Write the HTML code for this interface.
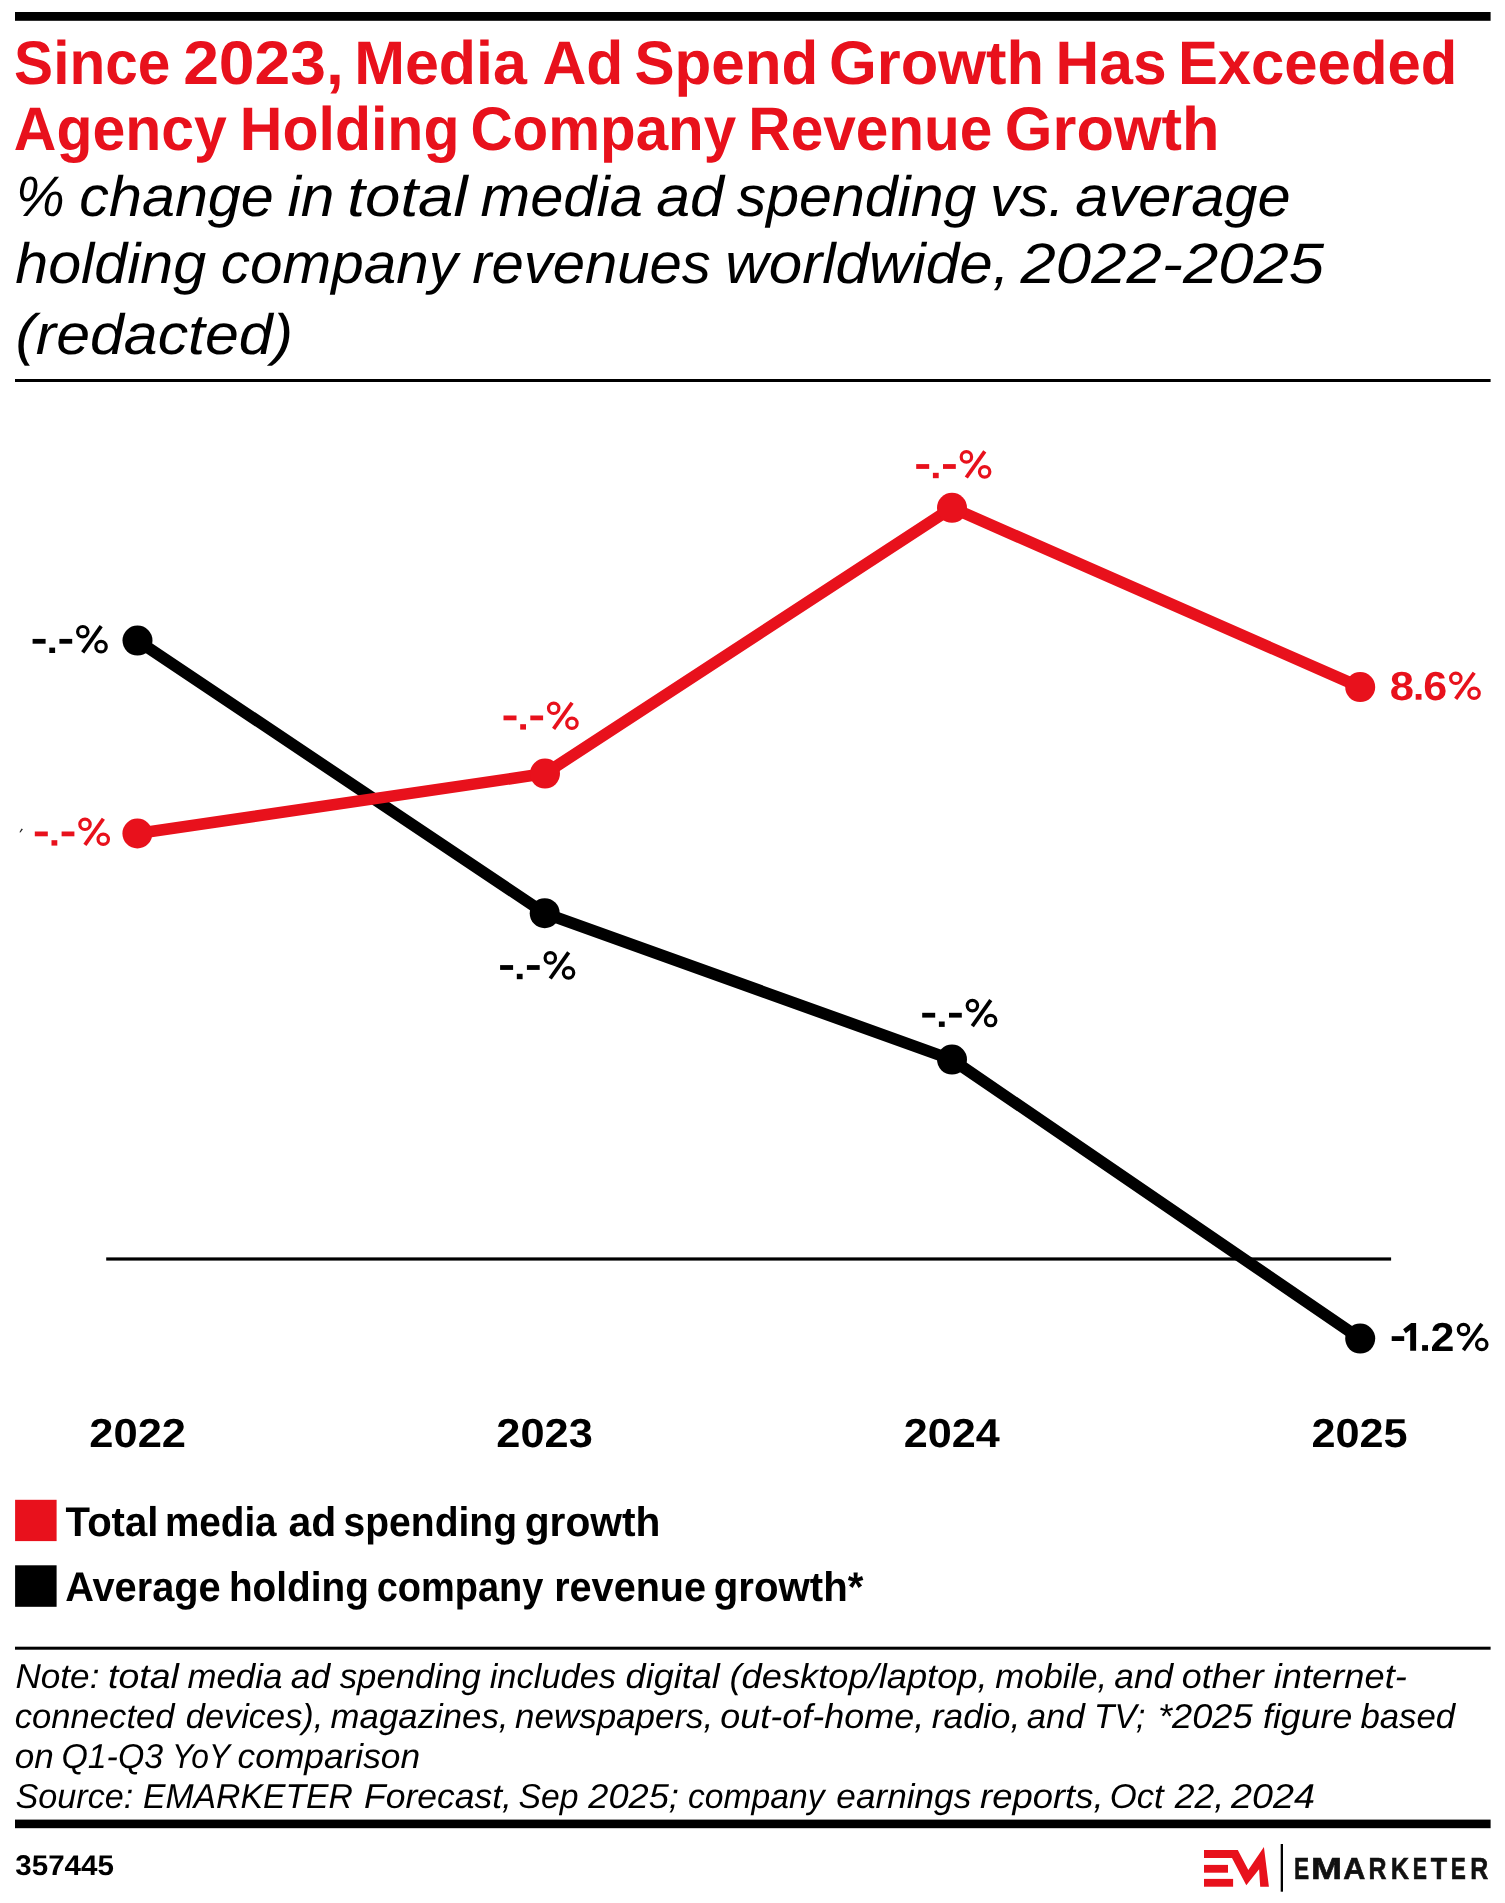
<!DOCTYPE html>
<html lang="en">
<head>
<meta charset="utf-8">
<title>Since 2023, Media Ad Spend Growth Has Exceeded Agency Holding Company Revenue Growth</title>
<style>
html,body{margin:0;padding:0;background:#ffffff;}
body{width:1505px;height:1903px;overflow:hidden;font-family:"Liberation Sans",sans-serif;}
svg{display:block;}
svg text{font-family:"Liberation Sans",sans-serif;}
</style>
</head>
<body>
<svg role="img" aria-label="Line chart: total media ad spending growth vs. average holding company revenue growth, 2022-2025" width="1505" height="1903" viewBox="0 0 1505 1903" text-rendering="geometricPrecision">
<rect x="0" y="0" width="1505" height="1903" fill="#ffffff"/>
<!-- rules -->
<rect x="15" y="12" width="1475.6" height="8.8" fill="#000"/>
<rect x="15" y="379" width="1475.6" height="3" fill="#000"/>
<rect x="15" y="1646.7" width="1475.6" height="3" fill="#000"/>
<rect x="15" y="1819.6" width="1475.6" height="8.6" fill="#000"/>
<!-- chart -->
<rect x="106.2" y="1257.4" width="1284.9" height="3.2" fill="#000"/>
<polyline points="137.5,640.6 544.7,913.2 952,1059.6 1360.2,1338.6" fill="none" stroke="#000000" stroke-width="11.6" stroke-linejoin="round" stroke-linecap="round"/>
<circle cx="137.5" cy="640.6" r="15" fill="#000000"/>
<circle cx="544.7" cy="913.2" r="15" fill="#000000"/>
<circle cx="952" cy="1059.6" r="15" fill="#000000"/>
<circle cx="1360.2" cy="1338.6" r="15" fill="#000000"/>
<polyline points="137.4,833.5 545,773.6 952,507.8 1360.2,687.1" fill="none" stroke="#e8111c" stroke-width="11.6" stroke-linejoin="round" stroke-linecap="round"/>
<circle cx="137.4" cy="833.5" r="15" fill="#e8111c"/>
<circle cx="545" cy="773.6" r="15" fill="#e8111c"/>
<circle cx="952" cy="507.8" r="15" fill="#e8111c"/>
<circle cx="1360.2" cy="687.1" r="15" fill="#e8111c"/>
<path d="M19.4 832.3 L21.6 828.6 L22.9 829.3 L20.4 832.6 Z" fill="#222"/>
<!-- legend -->
<rect x="15.1" y="1499.8" width="41.5" height="41.3" fill="#e8111c"/>
<rect x="15.1" y="1565.3" width="41.5" height="41.5" fill="#000"/>
<!-- text (masked group forces grayscale antialiasing) -->
<defs><mask id="txtmask" maskUnits="userSpaceOnUse" x="0" y="0" width="1505" height="1903"><rect x="0" y="0" width="1505" height="1903" fill="#fff"/></mask></defs>
<g mask="url(#txtmask)">
<text x="14.07" y="83.6" font-size="61.5" font-weight="bold" font-style="normal" fill="#e8111c" textLength="156.29" lengthAdjust="spacingAndGlyphs">Since</text>
<text x="183.16" y="83.6" font-size="61.5" font-weight="bold" font-style="normal" fill="#e8111c" textLength="160.63" lengthAdjust="spacingAndGlyphs">2023,</text>
<text x="354.21" y="83.6" font-size="61.5" font-weight="bold" font-style="normal" fill="#e8111c" textLength="172.71" lengthAdjust="spacingAndGlyphs">Media</text>
<text x="542.40" y="83.6" font-size="61.5" font-weight="bold" font-style="normal" fill="#e8111c" textLength="80.93" lengthAdjust="spacingAndGlyphs">Ad</text>
<text x="634.42" y="83.6" font-size="61.5" font-weight="bold" font-style="normal" fill="#e8111c" textLength="183.81" lengthAdjust="spacingAndGlyphs">Spend</text>
<text x="829.06" y="83.6" font-size="61.5" font-weight="bold" font-style="normal" fill="#e8111c" textLength="214.98" lengthAdjust="spacingAndGlyphs">Growth</text>
<text x="1055.53" y="83.6" font-size="61.5" font-weight="bold" font-style="normal" fill="#e8111c" textLength="111.10" lengthAdjust="spacingAndGlyphs">Has</text>
<text x="1177.88" y="83.6" font-size="61.5" font-weight="bold" font-style="normal" fill="#e8111c" textLength="279.38" lengthAdjust="spacingAndGlyphs">Exceeded</text>
<text x="13.85" y="150.0" font-size="61.5" font-weight="bold" font-style="normal" fill="#e8111c" textLength="213.00" lengthAdjust="spacingAndGlyphs">Agency</text>
<text x="239.84" y="150.0" font-size="61.5" font-weight="bold" font-style="normal" fill="#e8111c" textLength="219.61" lengthAdjust="spacingAndGlyphs">Holding</text>
<text x="470.50" y="150.0" font-size="61.5" font-weight="bold" font-style="normal" fill="#e8111c" textLength="265.60" lengthAdjust="spacingAndGlyphs">Company</text>
<text x="748.37" y="150.0" font-size="61.5" font-weight="bold" font-style="normal" fill="#e8111c" textLength="244.01" lengthAdjust="spacingAndGlyphs">Revenue</text>
<text x="1004.86" y="150.0" font-size="61.5" font-weight="bold" font-style="normal" fill="#e8111c" textLength="214.67" lengthAdjust="spacingAndGlyphs">Growth</text>
<text x="15.97" y="216.2" font-size="57" font-weight="normal" font-style="italic" fill="#000000" textLength="48.62" lengthAdjust="spacingAndGlyphs">%</text>
<text x="79.33" y="216.2" font-size="57" font-weight="normal" font-style="italic" fill="#000000" textLength="194.49" lengthAdjust="spacingAndGlyphs">change</text>
<text x="287.40" y="216.2" font-size="57" font-weight="normal" font-style="italic" fill="#000000" textLength="47.12" lengthAdjust="spacingAndGlyphs">in</text>
<text x="347.37" y="216.2" font-size="57" font-weight="normal" font-style="italic" fill="#000000" textLength="120.20" lengthAdjust="spacingAndGlyphs">total</text>
<text x="480.60" y="216.2" font-size="57" font-weight="normal" font-style="italic" fill="#000000" textLength="162.30" lengthAdjust="spacingAndGlyphs">media</text>
<text x="656.15" y="216.2" font-size="57" font-weight="normal" font-style="italic" fill="#000000" textLength="67.77" lengthAdjust="spacingAndGlyphs">ad</text>
<text x="736.75" y="216.2" font-size="57" font-weight="normal" font-style="italic" fill="#000000" textLength="239.64" lengthAdjust="spacingAndGlyphs">spending</text>
<text x="990.10" y="216.2" font-size="57" font-weight="normal" font-style="italic" fill="#000000" textLength="74.36" lengthAdjust="spacingAndGlyphs">vs.</text>
<text x="1075.29" y="216.2" font-size="57" font-weight="normal" font-style="italic" fill="#000000" textLength="215.33" lengthAdjust="spacingAndGlyphs">average</text>
<text x="15.20" y="282.8" font-size="57" font-weight="normal" font-style="italic" fill="#000000" textLength="191.03" lengthAdjust="spacingAndGlyphs">holding</text>
<text x="220.86" y="282.8" font-size="57" font-weight="normal" font-style="italic" fill="#000000" textLength="236.99" lengthAdjust="spacingAndGlyphs">company</text>
<text x="472.23" y="282.8" font-size="57" font-weight="normal" font-style="italic" fill="#000000" textLength="238.59" lengthAdjust="spacingAndGlyphs">revenues</text>
<text x="725.36" y="282.8" font-size="57" font-weight="normal" font-style="italic" fill="#000000" textLength="283.99" lengthAdjust="spacingAndGlyphs">worldwide,</text>
<text x="1020.56" y="282.8" font-size="57" font-weight="normal" font-style="italic" fill="#000000" textLength="303.54" lengthAdjust="spacingAndGlyphs">2022-2025</text>
<text x="15.62" y="354.4" font-size="57" font-weight="normal" font-style="italic" fill="#000000" textLength="277.30" lengthAdjust="spacingAndGlyphs">(redacted)</text>
<text x="1389.66" y="699.7" font-size="40.5" font-weight="bold" font-style="normal" fill="#e8111c" textLength="24.20" lengthAdjust="spacingAndGlyphs">8</text>
<text x="1423.17" y="699.7" font-size="40.5" font-weight="bold" font-style="normal" fill="#e8111c" textLength="23.96" lengthAdjust="spacingAndGlyphs">6</text>
<text x="1430.56" y="1350.8" font-size="40.5" font-weight="bold" font-style="normal" fill="#000000" textLength="23.93" lengthAdjust="spacingAndGlyphs">2</text>
<text x="89.25" y="1446.9" font-size="40.5" font-weight="bold" font-style="normal" fill="#000000" textLength="96.80" lengthAdjust="spacingAndGlyphs">2022</text>
<text x="496.35" y="1446.9" font-size="40.5" font-weight="bold" font-style="normal" fill="#000000" textLength="96.45" lengthAdjust="spacingAndGlyphs">2023</text>
<text x="903.66" y="1446.9" font-size="40.5" font-weight="bold" font-style="normal" fill="#000000" textLength="95.98" lengthAdjust="spacingAndGlyphs">2024</text>
<text x="1311.46" y="1446.9" font-size="40.5" font-weight="bold" font-style="normal" fill="#000000" textLength="96.21" lengthAdjust="spacingAndGlyphs">2025</text>
<text x="65.62" y="1535.8" font-size="41.5" font-weight="bold" font-style="normal" fill="#000000" textLength="92.82" lengthAdjust="spacingAndGlyphs">Total</text>
<text x="164.93" y="1535.8" font-size="41.5" font-weight="bold" font-style="normal" fill="#000000" textLength="111.70" lengthAdjust="spacingAndGlyphs">media</text>
<text x="288.45" y="1535.8" font-size="41.5" font-weight="bold" font-style="normal" fill="#000000" textLength="47.79" lengthAdjust="spacingAndGlyphs">ad</text>
<text x="343.54" y="1535.8" font-size="41.5" font-weight="bold" font-style="normal" fill="#000000" textLength="173.52" lengthAdjust="spacingAndGlyphs">spending</text>
<text x="524.71" y="1535.8" font-size="41.5" font-weight="bold" font-style="normal" fill="#000000" textLength="135.78" lengthAdjust="spacingAndGlyphs">growth</text>
<text x="65.18" y="1601.2" font-size="41.5" font-weight="bold" font-style="normal" fill="#000000" textLength="155.52" lengthAdjust="spacingAndGlyphs">Average</text>
<text x="228.96" y="1601.2" font-size="41.5" font-weight="bold" font-style="normal" fill="#000000" textLength="139.87" lengthAdjust="spacingAndGlyphs">holding</text>
<text x="376.68" y="1601.2" font-size="41.5" font-weight="bold" font-style="normal" fill="#000000" textLength="166.66" lengthAdjust="spacingAndGlyphs">company</text>
<text x="554.16" y="1601.2" font-size="41.5" font-weight="bold" font-style="normal" fill="#000000" textLength="151.93" lengthAdjust="spacingAndGlyphs">revenue</text>
<text x="713.74" y="1601.2" font-size="41.5" font-weight="bold" font-style="normal" fill="#000000" textLength="149.59" lengthAdjust="spacingAndGlyphs">growth*</text>
<text x="15.45" y="1688.4" font-size="34.5" font-weight="normal" font-style="italic" fill="#000000" textLength="83.97" lengthAdjust="spacingAndGlyphs">Note:</text>
<text x="108.03" y="1688.4" font-size="34.5" font-weight="normal" font-style="italic" fill="#000000" textLength="70.81" lengthAdjust="spacingAndGlyphs">total</text>
<text x="187.41" y="1688.4" font-size="34.5" font-weight="normal" font-style="italic" fill="#000000" textLength="95.02" lengthAdjust="spacingAndGlyphs">media</text>
<text x="290.81" y="1688.4" font-size="34.5" font-weight="normal" font-style="italic" fill="#000000" textLength="39.39" lengthAdjust="spacingAndGlyphs">ad</text>
<text x="339.74" y="1688.4" font-size="34.5" font-weight="normal" font-style="italic" fill="#000000" textLength="141.07" lengthAdjust="spacingAndGlyphs">spending</text>
<text x="489.72" y="1688.4" font-size="34.5" font-weight="normal" font-style="italic" fill="#000000" textLength="126.35" lengthAdjust="spacingAndGlyphs">includes</text>
<text x="625.62" y="1688.4" font-size="34.5" font-weight="normal" font-style="italic" fill="#000000" textLength="94.09" lengthAdjust="spacingAndGlyphs">digital</text>
<text x="729.55" y="1688.4" font-size="34.5" font-weight="normal" font-style="italic" fill="#000000" textLength="258.01" lengthAdjust="spacingAndGlyphs">(desktop/laptop,</text>
<text x="995.21" y="1688.4" font-size="34.5" font-weight="normal" font-style="italic" fill="#000000" textLength="111.97" lengthAdjust="spacingAndGlyphs">mobile,</text>
<text x="1114.32" y="1688.4" font-size="34.5" font-weight="normal" font-style="italic" fill="#000000" textLength="58.78" lengthAdjust="spacingAndGlyphs">and</text>
<text x="1181.82" y="1688.4" font-size="34.5" font-weight="normal" font-style="italic" fill="#000000" textLength="81.89" lengthAdjust="spacingAndGlyphs">other</text>
<text x="1273.78" y="1688.4" font-size="34.5" font-weight="normal" font-style="italic" fill="#000000" textLength="133.02" lengthAdjust="spacingAndGlyphs">internet-</text>
<text x="14.76" y="1728.2" font-size="34.5" font-weight="normal" font-style="italic" fill="#000000" textLength="159.78" lengthAdjust="spacingAndGlyphs">connected</text>
<text x="185.87" y="1728.2" font-size="34.5" font-weight="normal" font-style="italic" fill="#000000" textLength="137.45" lengthAdjust="spacingAndGlyphs">devices),</text>
<text x="330.61" y="1728.2" font-size="34.5" font-weight="normal" font-style="italic" fill="#000000" textLength="177.90" lengthAdjust="spacingAndGlyphs">magazines,</text>
<text x="515.00" y="1728.2" font-size="34.5" font-weight="normal" font-style="italic" fill="#000000" textLength="198.34" lengthAdjust="spacingAndGlyphs">newspapers,</text>
<text x="720.22" y="1728.2" font-size="34.5" font-weight="normal" font-style="italic" fill="#000000" textLength="203.92" lengthAdjust="spacingAndGlyphs">out-of-home,</text>
<text x="931.79" y="1728.2" font-size="34.5" font-weight="normal" font-style="italic" fill="#000000" textLength="88.46" lengthAdjust="spacingAndGlyphs">radio,</text>
<text x="1026.72" y="1728.2" font-size="34.5" font-weight="normal" font-style="italic" fill="#000000" textLength="58.08" lengthAdjust="spacingAndGlyphs">and</text>
<text x="1094.04" y="1728.2" font-size="34.5" font-weight="normal" font-style="italic" fill="#000000" textLength="51.33" lengthAdjust="spacingAndGlyphs">TV;</text>
<text x="1157.96" y="1728.2" font-size="34.5" font-weight="normal" font-style="italic" fill="#000000" textLength="94.59" lengthAdjust="spacingAndGlyphs">*2025</text>
<text x="1263.00" y="1728.2" font-size="34.5" font-weight="normal" font-style="italic" fill="#000000" textLength="89.24" lengthAdjust="spacingAndGlyphs">figure</text>
<text x="1360.43" y="1728.2" font-size="34.5" font-weight="normal" font-style="italic" fill="#000000" textLength="94.79" lengthAdjust="spacingAndGlyphs">based</text>
<text x="14.75" y="1768.0" font-size="34.5" font-weight="normal" font-style="italic" fill="#000000" textLength="39.05" lengthAdjust="spacingAndGlyphs">on</text>
<text x="61.40" y="1768.0" font-size="34.5" font-weight="normal" font-style="italic" fill="#000000" textLength="101.70" lengthAdjust="spacingAndGlyphs">Q1-Q3</text>
<text x="172.01" y="1768.0" font-size="34.5" font-weight="normal" font-style="italic" fill="#000000" textLength="58.11" lengthAdjust="spacingAndGlyphs">YoY</text>
<text x="237.64" y="1768.0" font-size="34.5" font-weight="normal" font-style="italic" fill="#000000" textLength="182.53" lengthAdjust="spacingAndGlyphs">comparison</text>
<text x="15.47" y="1807.9" font-size="34.5" font-weight="normal" font-style="italic" fill="#000000" textLength="117.83" lengthAdjust="spacingAndGlyphs">Source:</text>
<text x="142.98" y="1807.9" font-size="34.5" font-weight="normal" font-style="italic" fill="#000000" textLength="209.95" lengthAdjust="spacingAndGlyphs">EMARKETER</text>
<text x="363.94" y="1807.9" font-size="34.5" font-weight="normal" font-style="italic" fill="#000000" textLength="148.02" lengthAdjust="spacingAndGlyphs">Forecast,</text>
<text x="518.48" y="1807.9" font-size="34.5" font-weight="normal" font-style="italic" fill="#000000" textLength="59.97" lengthAdjust="spacingAndGlyphs">Sep</text>
<text x="588.28" y="1807.9" font-size="34.5" font-weight="normal" font-style="italic" fill="#000000" textLength="90.64" lengthAdjust="spacingAndGlyphs">2025;</text>
<text x="687.99" y="1807.9" font-size="34.5" font-weight="normal" font-style="italic" fill="#000000" textLength="136.63" lengthAdjust="spacingAndGlyphs">company</text>
<text x="836.34" y="1807.9" font-size="34.5" font-weight="normal" font-style="italic" fill="#000000" textLength="134.89" lengthAdjust="spacingAndGlyphs">earnings</text>
<text x="980.07" y="1807.9" font-size="34.5" font-weight="normal" font-style="italic" fill="#000000" textLength="123.46" lengthAdjust="spacingAndGlyphs">reports,</text>
<text x="1109.76" y="1807.9" font-size="34.5" font-weight="normal" font-style="italic" fill="#000000" textLength="53.98" lengthAdjust="spacingAndGlyphs">Oct</text>
<text x="1174.87" y="1807.9" font-size="34.5" font-weight="normal" font-style="italic" fill="#000000" textLength="49.35" lengthAdjust="spacingAndGlyphs">22,</text>
<text x="1230.98" y="1807.9" font-size="34.5" font-weight="normal" font-style="italic" fill="#000000" textLength="83.90" lengthAdjust="spacingAndGlyphs">2024</text>
<text x="15.30" y="1874.5" font-size="28.5" font-weight="bold" font-style="normal" fill="#000000" textLength="98.64" lengthAdjust="spacingAndGlyphs">357445</text>
<text x="1293.88" y="1878.6" font-size="30.4" font-weight="bold" font-style="normal" fill="#111111" stroke="#111111" stroke-width="0.6" stroke-linejoin="miter" textLength="15.12" lengthAdjust="spacingAndGlyphs">E</text>
<text x="1311.06" y="1878.6" font-size="30.4" font-weight="bold" font-style="normal" fill="#111111" stroke="#111111" stroke-width="0.6" stroke-linejoin="miter" textLength="31.02" lengthAdjust="spacingAndGlyphs">M</text>
<text x="1343.24" y="1878.6" font-size="30.4" font-weight="bold" font-style="normal" fill="#111111" stroke="#111111" stroke-width="0.6" stroke-linejoin="miter" textLength="22.06" lengthAdjust="spacingAndGlyphs">A</text>
<text x="1368.53" y="1878.6" font-size="30.4" font-weight="bold" font-style="normal" fill="#111111" stroke="#111111" stroke-width="0.6" stroke-linejoin="miter" textLength="17.99" lengthAdjust="spacingAndGlyphs">R</text>
<text x="1390.81" y="1878.6" font-size="30.4" font-weight="bold" font-style="normal" fill="#111111" stroke="#111111" stroke-width="0.6" stroke-linejoin="miter" textLength="18.26" lengthAdjust="spacingAndGlyphs">K</text>
<text x="1412.76" y="1878.6" font-size="30.4" font-weight="bold" font-style="normal" fill="#111111" stroke="#111111" stroke-width="0.6" stroke-linejoin="miter" textLength="14.18" lengthAdjust="spacingAndGlyphs">E</text>
<text x="1430.66" y="1878.6" font-size="30.4" font-weight="bold" font-style="normal" fill="#111111" stroke="#111111" stroke-width="0.6" stroke-linejoin="miter" textLength="16.36" lengthAdjust="spacingAndGlyphs">T</text>
<text x="1450.78" y="1878.6" font-size="30.4" font-weight="bold" font-style="normal" fill="#111111" stroke="#111111" stroke-width="0.6" stroke-linejoin="miter" textLength="15.12" lengthAdjust="spacingAndGlyphs">E</text>
<text x="1470.13" y="1878.6" font-size="30.4" font-weight="bold" font-style="normal" fill="#111111" stroke="#111111" stroke-width="0.6" stroke-linejoin="miter" textLength="17.99" lengthAdjust="spacingAndGlyphs">R</text>
</g>
<!-- redacted-value labels: dashes, dots, percent glyphs -->
<rect x="32.60" y="638.90" width="13.0" height="4.8" fill="#000000"/>
<rect x="49.30" y="647.60" width="5.8" height="5.4" fill="#000000"/>
<rect x="59.40" y="638.90" width="12.8" height="4.8" fill="#000000"/>
<rect x="34.80" y="831.50" width="13.0" height="4.8" fill="#e8111c"/>
<rect x="51.50" y="840.20" width="5.8" height="5.4" fill="#e8111c"/>
<rect x="61.60" y="831.50" width="12.8" height="4.8" fill="#e8111c"/>
<rect x="503.50" y="715.50" width="13.0" height="4.8" fill="#e8111c"/>
<rect x="520.20" y="724.20" width="5.8" height="5.4" fill="#e8111c"/>
<rect x="530.30" y="715.50" width="12.8" height="4.8" fill="#e8111c"/>
<rect x="500.10" y="965.10" width="13.0" height="4.8" fill="#000000"/>
<rect x="516.80" y="973.80" width="5.8" height="5.4" fill="#000000"/>
<rect x="526.90" y="965.10" width="12.8" height="4.8" fill="#000000"/>
<rect x="916.20" y="464.10" width="13.0" height="4.8" fill="#e8111c"/>
<rect x="932.90" y="472.80" width="5.8" height="5.4" fill="#e8111c"/>
<rect x="943.00" y="464.10" width="12.8" height="4.8" fill="#e8111c"/>
<rect x="922.20" y="1012.80" width="13.0" height="4.8" fill="#000000"/>
<rect x="938.90" y="1021.50" width="5.8" height="5.4" fill="#000000"/>
<rect x="949.00" y="1012.80" width="12.8" height="4.8" fill="#000000"/>
<rect x="1391.70" y="1336.20" width="12.5" height="4.8" fill="#000000"/>
<rect x="1422.10" y="1345.10" width="5.9" height="5.7" fill="#000000"/>
<rect x="1415.70" y="694.00" width="5.8" height="5.7" fill="#e8111c"/>
<polygon points="1411.2,1323.0 1416.1,1323.0 1416.1,1350.8 1410.2,1350.8 1410.2,1329.9 1405.8,1333.2 1403.1,1329.3" fill="#000000"/>
<g fill="none" stroke="#000000"><circle cx="82.80" cy="631.70" r="5.2" stroke-width="3.2"/><circle cx="101.04" cy="646.67" r="5.2" stroke-width="3.2"/><line x1="101.18" y1="626.14" x2="82.71" y2="652.31" stroke-width="3.8"/></g>
<g fill="none" stroke="#e8111c"><circle cx="85.00" cy="824.30" r="5.2" stroke-width="3.2"/><circle cx="103.24" cy="839.27" r="5.2" stroke-width="3.2"/><line x1="103.38" y1="818.74" x2="84.91" y2="844.91" stroke-width="3.8"/></g>
<g fill="none" stroke="#e8111c"><circle cx="553.70" cy="708.30" r="5.2" stroke-width="3.2"/><circle cx="571.94" cy="723.27" r="5.2" stroke-width="3.2"/><line x1="572.08" y1="702.74" x2="553.61" y2="728.91" stroke-width="3.8"/></g>
<g fill="none" stroke="#000000"><circle cx="550.30" cy="957.90" r="5.2" stroke-width="3.2"/><circle cx="568.54" cy="972.87" r="5.2" stroke-width="3.2"/><line x1="568.68" y1="952.34" x2="550.21" y2="978.51" stroke-width="3.8"/></g>
<g fill="none" stroke="#e8111c"><circle cx="966.40" cy="456.90" r="5.2" stroke-width="3.2"/><circle cx="984.64" cy="471.87" r="5.2" stroke-width="3.2"/><line x1="984.78" y1="451.34" x2="966.31" y2="477.51" stroke-width="3.8"/></g>
<g fill="none" stroke="#000000"><circle cx="972.40" cy="1005.60" r="5.2" stroke-width="3.2"/><circle cx="990.64" cy="1020.57" r="5.2" stroke-width="3.2"/><line x1="990.78" y1="1000.04" x2="972.31" y2="1026.21" stroke-width="3.8"/></g>
<g fill="none" stroke="#e8111c"><circle cx="1455.82" cy="678.30" r="5.2" stroke-width="3.2"/><circle cx="1474.06" cy="693.27" r="5.2" stroke-width="3.2"/><line x1="1474.20" y1="672.74" x2="1455.73" y2="698.91" stroke-width="3.8"/></g>
<g fill="none" stroke="#000000"><circle cx="1463.52" cy="1329.50" r="5.2" stroke-width="3.2"/><circle cx="1481.76" cy="1344.47" r="5.2" stroke-width="3.2"/><line x1="1481.90" y1="1323.94" x2="1463.43" y2="1350.11" stroke-width="3.8"/></g>
<!-- logo -->
<path d="M1204 1850 L1237.8 1850 L1248.3 1869.9 L1263.9 1847 L1268.9 1886.7 L1260.2 1886.7 L1259.1 1869.3 L1246.3 1885.3 L1232 1857.9 L1204 1857.9 Z" fill="#e8111c"/>
<rect x="1204" y="1864.9" width="24" height="7.8" fill="#e8111c"/>
<rect x="1204" y="1878.9" width="29.1" height="7.8" fill="#e8111c"/>
<rect x="1280.7" y="1844" width="2.3" height="47.7" fill="#000"/>
</svg>
</body>
</html>
